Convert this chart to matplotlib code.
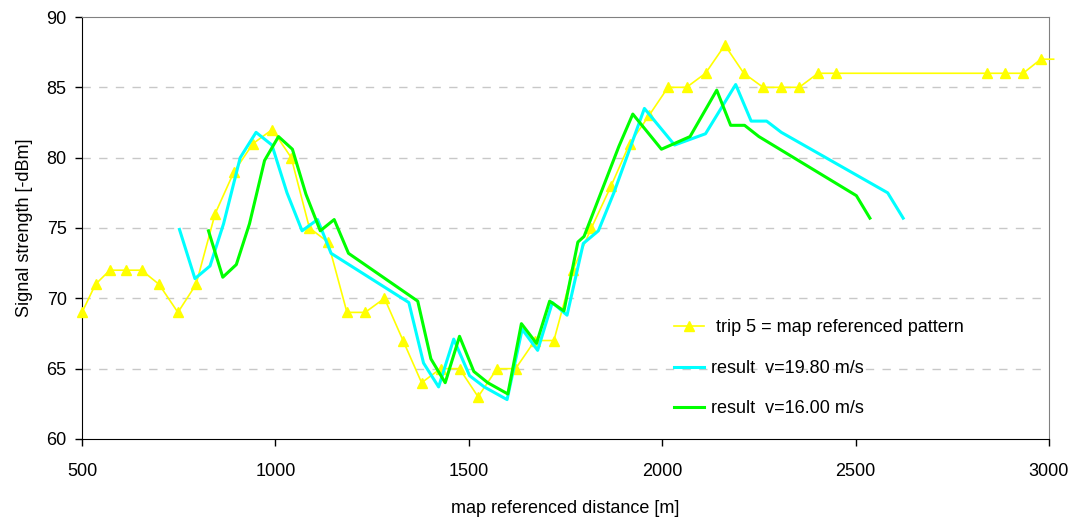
import matplotlib
matplotlib.use("Agg")
import matplotlib.pyplot as plt

plt.rcParams['font.family'] = ['Liberation Sans', 'DejaVu Sans']

# trip 5 = map referenced pattern
trip_x = [500, 535, 572, 613, 654, 699, 748, 795, 844, 893, 942, 992, 1041, 1088,
          1136, 1185, 1232, 1282, 1330, 1378, 1427, 1476, 1524, 1573, 1621, 1671,
          1720, 1769, 1817, 1868, 1916, 1966, 2015, 2063, 2112, 2162, 2211, 2261,
          2306, 2354, 2403, 2450, 2839, 2886, 2933, 2979, 3012]
trip_y = [69, 71, 72, 72, 72, 71, 69, 71, 76, 79, 81, 82, 80, 75,
          74, 69, 69, 70, 67, 64, 65, 65, 63, 65, 65, 67,
          67, 72, 75, 78, 81, 83, 85, 85, 86, 88, 86, 85,
          85, 85, 86, 86, 86, 86, 86, 87, 87]

# result v=19.80 m/s
v198_x = [752, 792, 831, 866, 909, 950, 991, 1030, 1069, 1109, 1144, 1345, 1383,
          1422, 1461, 1502, 1540, 1599, 1638, 1678, 1716, 1754, 1796, 1835, 1875,
          1954, 2032, 2112, 2190, 2230, 2270, 2308, 2583, 2623]
v198_y = [74.9, 71.4, 72.3, 75.3, 80.0, 81.8, 80.9, 77.5, 74.8, 75.6, 73.2, 69.7, 65.4,
          63.7, 67.1, 64.5, 63.7, 62.8, 67.8, 66.3, 69.7, 68.8, 73.9, 74.8, 77.5,
          83.5, 80.9, 81.7, 85.2, 82.6, 82.6, 81.8, 77.5, 75.7]

# result v=16.00 m/s
v160_x = [827, 864, 899, 933, 972, 1008, 1044, 1079, 1116, 1152, 1189, 1368, 1402,
          1439, 1476, 1513, 1549, 1601, 1636, 1675, 1709, 1746, 1782, 1798, 1888,
          1924, 1998, 2072, 2141, 2177, 2213, 2250, 2502, 2537]
v160_y = [74.8, 71.5, 72.4, 75.3, 79.8, 81.5, 80.6, 77.4, 74.8, 75.6, 73.2, 69.8, 65.7,
          64.0, 67.3, 64.8, 64.0, 63.2, 68.2, 66.8, 69.8, 69.1, 74.0, 74.4, 80.8,
          83.1, 80.6, 81.5, 84.8, 82.3, 82.3, 81.5, 77.3, 75.7]

fig = plt.figure(figsize=(10.76, 5.17), dpi=100)
ax = fig.add_axes([0.0762, 0.1509, 0.8987, 0.8162])

ax.plot(trip_x, trip_y, color='#ffff00', lw=1.2, marker='^', ms=7,
        markevery=list(range(len(trip_x) - 1)), clip_on=False, zorder=3,
        label=' trip 5 = map referenced pattern')
ax.plot(v198_x, v198_y, color='#00ffff', lw=2.2, zorder=4,
        label='result  v=19.80 m/s')
ax.plot(v160_x, v160_y, color='#00ff00', lw=2.2, zorder=5,
        label='result  v=16.00 m/s')

ax.set_xlim(500, 3000)
ax.set_ylim(60, 90)
ax.set_xticks(range(500, 3001, 500))
ax.set_yticks(range(60, 91, 5))
for v in range(65, 90, 5):
    ax.axhline(v, color='#c8c8c8', lw=1, ls=(0, (6, 6)), zorder=1)

ax.tick_params(direction='out', length=5, width=1, labelsize=13, pad=6)
ax.tick_params(axis='x', pad=12)
ax.spines['left'].set_color('black')
ax.spines['bottom'].set_color('black')
ax.spines['top'].set_color('#808080')
ax.spines['right'].set_color('#808080')

ax.set_xlabel('map referenced distance [m]', fontsize=13, labelpad=15)
ax.set_ylabel('Signal strength [-dBm]', fontsize=13, labelpad=10)

ax.legend(loc='upper left', bbox_to_anchor=(0.595, 0.322), frameon=False,
          fontsize=13, handlelength=1.7, handletextpad=0.35, labelspacing=1.3)

fig.savefig('out.png', dpi=100)
